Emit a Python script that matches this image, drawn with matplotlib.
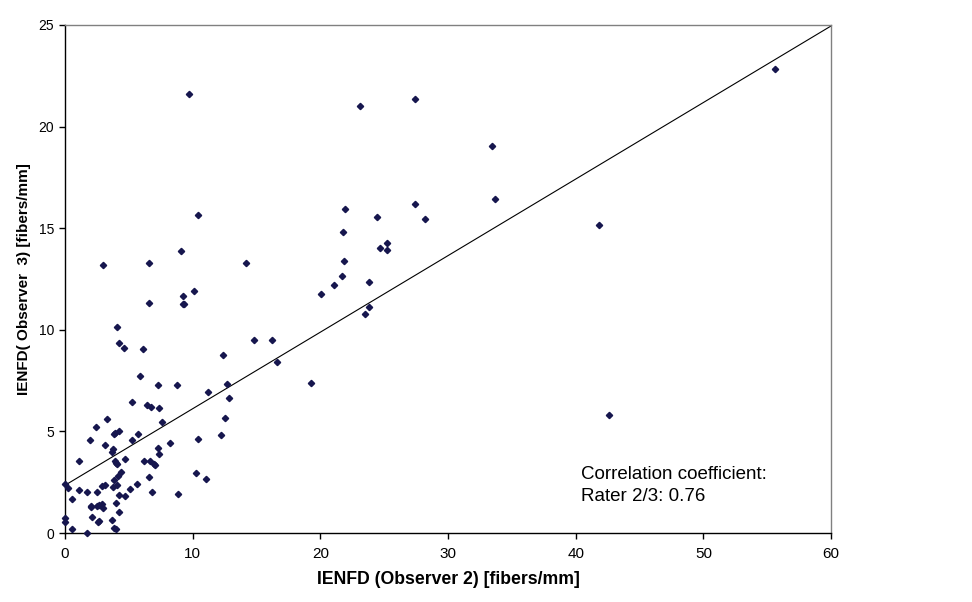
import matplotlib
matplotlib.use("Agg")
import matplotlib.pyplot as plt
import numpy as np

# IENFD readings, observer 2 (x) vs observer 3 (y), fibers/mm
obs2 = [
    7.31, 8.8, 12.7, 11.2, 12.87, 5.27, 6.45, 6.76, 7.39, 7.62,
    12.5, 3.31, 2.45, 12.24, 10.44, 8.25, 4.25, 3.92, 3.81, 5.74,
    5.27, 1.98, 3.16, 3.65, 3.73, 7.31, 7.39, 1.12, 3.94, 3.99,
    4.05, 4.73, 6.21, 6.68, 6.97, 7.05, 4.41, 4.18, 3.81, 3.13,
    2.9, 3.73, 4.1, 5.66, 6.6, 5.12, 6.84, 0.0, 0.26, 1.12,
    1.75, 2.53, 4.25, 4.73, 8.88, 0.57, 2.04, 2.04, 2.53, 2.69,
    2.87, 3.0, 4.02, 4.25, 2.14, 2.56, 2.69, 3.71, 3.86, 4.02,
    0.0, 0.0, 0.57, 1.75, 10.28, 11.07,
    3.0, 6.6, 9.11, 14.17, 10.13, 9.27, 9.21, 9.3, 6.6, 4.1,
    4.25, 4.65, 6.13, 5.9, 12.4, 14.83,
    9.74, 10.44, 21.95, 21.8,
    21.87, 21.72, 21.07, 20.07, 16.23, 16.6, 19.29,
    23.12, 27.43, 33.46, 33.7, 27.43, 24.46, 28.21, 25.24, 24.69, 25.24,
    23.83, 23.83, 23.52,
    41.84, 42.62, 55.6,
]
obs3 = [
    7.28, 7.28, 7.33, 6.92, 6.63, 6.45, 6.3, 6.2, 6.13, 5.45,
    5.64, 5.6, 5.2, 4.81, 4.61, 4.43, 5.0, 4.9, 4.87, 4.86,
    4.56, 4.56, 4.31, 3.99, 4.13, 4.17, 3.89, 3.54, 3.54, 3.46,
    3.41, 3.63, 3.54, 3.54, 3.41, 3.33, 3.0, 2.79, 2.61, 2.35,
    2.31, 2.26, 2.35, 2.4, 2.74, 2.17, 2.0, 2.4, 2.2, 2.12,
    2.0, 2.0, 1.85, 1.8, 1.9, 1.67, 1.35, 1.26, 1.33, 1.36,
    1.41, 1.21, 1.46, 1.02, 0.79, 0.54, 0.57, 0.62, 0.25, 0.2,
    0.74, 0.53, 0.18, 0.0, 2.94, 2.66,
    13.17, 13.27, 13.86, 13.27, 11.9, 11.65, 11.27, 11.25, 11.3, 10.12,
    9.33, 9.09, 9.06, 7.71, 8.74, 9.5,
    21.59, 15.64, 15.93, 14.8,
    13.37, 12.63, 12.19, 11.75, 9.48, 8.4, 7.37,
    21.0, 21.34, 19.03, 16.42, 16.17, 15.54, 15.44, 14.26, 14.01, 13.91,
    12.34, 11.1, 10.78,
    15.14, 5.79, 22.83,
]

# linear trendline
trend_intercept = 2.35
trend_slope = 0.3767

x_ticks = [0, 10, 20, 30, 40, 50, 60]
y_ticks = [0, 5, 10, 15, 20, 25]

note_lines = ["Correlation coefficient:", "Rater 2/3: 0.76"]

font = "Liberation Sans"

fig = plt.figure(figsize=(9.72, 6.02), dpi=100)
ax = fig.add_axes([0.0669, 0.1146, 0.855 - 0.0669, 0.9585 - 0.1146])

ax.plot(obs2, obs3, linestyle="none", marker="D", markersize=3.2,
        color="#16164e", clip_on=False, zorder=3)

tx = np.array([0, 60])
ax.plot(tx, trend_intercept + trend_slope * tx, color="black", linewidth=0.8, zorder=2)

ax.set_xlim(0, 60)
ax.set_ylim(0, 25)
ax.set_xticks(x_ticks)
ax.set_yticks(y_ticks)

ax.set_xticklabels([str(v) for v in x_ticks], family=font, fontsize=11)
ax.set_yticklabels([str(v) for v in y_ticks], family=font, fontsize=10)
ax.tick_params(direction="out", length=4, width=1, color="black", pad=4)
ax.tick_params(axis="x", pad=6)

for side in ("top", "right"):
    ax.spines[side].set_color("#808080")
    ax.spines[side].set_linewidth(1.0)
for side in ("left", "bottom"):
    ax.spines[side].set_color("black")
    ax.spines[side].set_linewidth(1.0)

ax.set_xlabel("IENFD (Observer 2) [fibers/mm]", family=font,
              fontweight="bold", fontsize=12.7, labelpad=7)
ax.set_ylabel("IENFD( Observer  3) [fibers/mm]", family=font,
              fontweight="bold", fontsize=11, labelpad=5)

ax.text(0.673, 0.132, "\n".join(note_lines), transform=ax.transAxes,
        family=font, fontsize=13.5, va="top", ha="left",
        linespacing=1.4)

fig.savefig("out.png", dpi=100)
